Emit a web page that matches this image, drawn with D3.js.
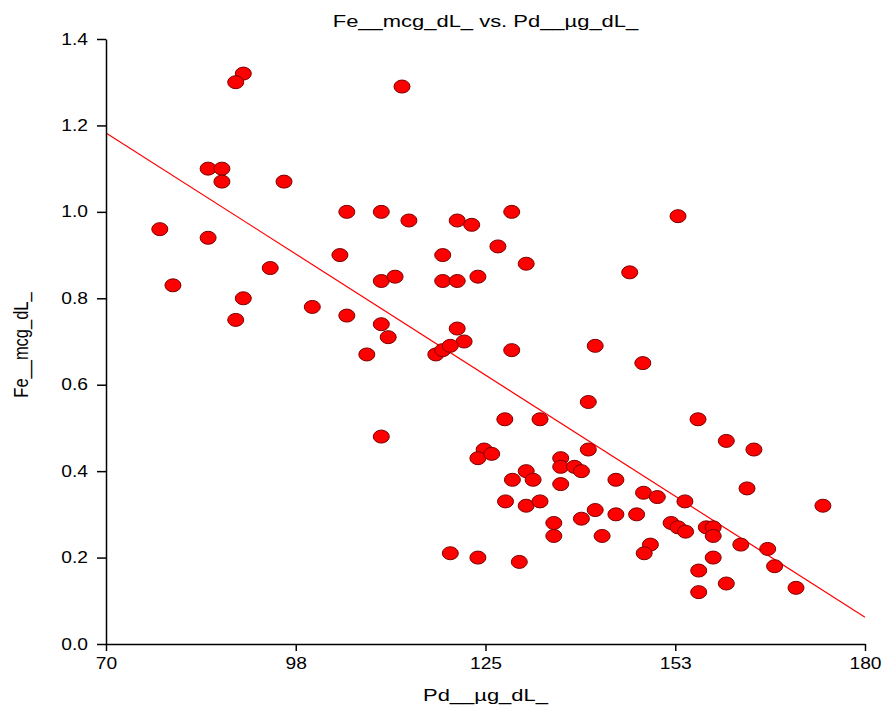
<!DOCTYPE html>
<html>
<head>
<meta charset="utf-8">
<script src="https://cdn.jsdelivr.net/npm/d3@7"></script>
<style>
  html, body { margin: 0; padding: 0; background: #fff; }
  svg { display: block; font-family: "Liberation Sans", Arial, sans-serif; }
</style>
</head>
<body>
<svg id="chart" width="887" height="713"></svg>
<script>
// Pd (µg/dL) readings
const pdValues = [
  89.9, 88.8, 112.9, 84.8, 86.8, 86.8, 95.8, 77.8, 84.8, 79.7,
  93.8, 89.9, 88.8, 99.9, 104.9, 109.9, 113.9, 103.9, 104.9, 109.9,
  111.9, 109.9, 110.9, 107.8, 109.9, 119.9, 120.9, 123.0, 118.8, 118.8,
  120.9, 123.9, 126.8, 128.8, 130.9, 152.9, 145.9, 120.9, 121.9, 117.8,
  118.8, 119.9, 128.8, 140.9, 147.8, 139.9, 127.8, 132.9, 155.8, 159.9,
  163.9, 162.9, 173.9, 124.8, 123.9, 125.9, 139.9, 135.9, 135.9, 137.9,
  138.9, 130.9, 128.9, 131.9, 135.9, 143.9, 127.9, 130.9, 132.9, 147.9,
  149.9, 153.9, 134.9, 134.9, 138.9, 140.9, 143.9, 146.9, 141.9, 148.9,
  148.0, 151.9, 152.9, 154.0, 123.9, 129.9, 157.0, 158.0, 158.0, 162.0,
  165.9, 158.0, 166.9, 155.9, 159.9, 155.9, 170.0
];

// Fe (mcg/dL) readings, paired with pdValues
const feValues = [
  1.32, 1.30, 1.29, 1.10, 1.10, 1.07, 1.07, 0.96, 0.94, 0.83,
  0.87, 0.80, 0.75, 0.78, 1.00, 1.00, 0.98, 0.90, 0.76, 0.84,
  0.85, 0.74, 0.71, 0.67, 0.48, 0.21, 0.98, 0.97, 0.90, 0.84,
  0.84, 0.85, 0.92, 1.00, 0.88, 0.99, 0.86, 0.73, 0.70, 0.67,
  0.68, 0.69, 0.68, 0.69, 0.65, 0.56, 0.52, 0.52, 0.52, 0.47,
  0.45, 0.36, 0.32, 0.45, 0.43, 0.44, 0.45, 0.43, 0.41, 0.41,
  0.40, 0.40, 0.38, 0.38, 0.37, 0.38, 0.33, 0.32, 0.33, 0.35,
  0.34, 0.33, 0.28, 0.25, 0.29, 0.31, 0.30, 0.30, 0.25, 0.23,
  0.21, 0.28, 0.27, 0.26, 0.20, 0.19, 0.27, 0.27, 0.25, 0.23,
  0.22, 0.20, 0.18, 0.17, 0.14, 0.12, 0.13
];

// Axis ticks
const xTickValues = [70, 97.5, 125, 152.5, 180];
const xTickLabels = ["70", "98", "125", "153", "180"];
const yTickValues = [0.0, 0.2, 0.4, 0.6, 0.8, 1.0, 1.2, 1.4];
const yTickLabels = ["0.0", "0.2", "0.4", "0.6", "0.8", "1.0", "1.2", "1.4"];

// Least-squares fit line: Fe = intercept + slope * Pd
const fitIntercept = [1.896];
const fitSlope = [-0.01019];

const titleText = "Fe__mcg_dL_ vs. Pd__\u00b5g_dL_";
const xLabel = "Pd__\u00b5g_dL_";
const yLabel = "Fe__mcg_dL_";

const svg = d3.select("#chart");
const margin = { left: 106, right: 22, top: 39, bottom: 69 };
const W = 887, H = 713;
const FONT = "\"Liberation Sans\", Arial, sans-serif";

const x = d3.scaleLinear().domain([70, 180]).range([margin.left, W - margin.right]);
const y = d3.scaleLinear().domain([0, 1.4]).range([H - margin.bottom, margin.top]);

const points = pdValues.map((v, i) => ({ pd: v, fe: feValues[i] }));

// Widen a text element horizontally while keeping its anchor
function widen(node, factor) {
  const w = node.getComputedTextLength();
  node.setAttribute("textLength", (w * factor).toFixed(2));
  node.setAttribute("lengthAdjust", "spacingAndGlyphs");
}

// Fit line across the full x domain
const fitFn = v => fitIntercept[0] + fitSlope[0] * v;
const lineGen = d3.line().x(d => x(d)).y(d => y(fitFn(d)));
svg.append("path")
  .datum(x.domain())
  .attr("d", lineGen)
  .attr("fill", "none")
  .attr("stroke", "#ff0000")
  .attr("stroke-width", 1.2);

// Markers
svg.append("g")
  .selectAll("ellipse")
  .data(points)
  .join("ellipse")
  .attr("cx", d => x(d.pd))
  .attr("cy", d => y(d.fe))
  .attr("rx", 8)
  .attr("ry", 6.5)
  .attr("fill", "#ff0000")
  .attr("stroke", "#7a0000")
  .attr("stroke-width", 1);

// Axes
const xAxis = d3.axisBottom(x)
  .tickValues(xTickValues)
  .tickFormat((d, i) => xTickLabels[i])
  .tickSize(7)
  .tickPadding(4)
  .tickSizeOuter(0);
const yAxis = d3.axisLeft(y)
  .tickValues(yTickValues)
  .tickFormat((d, i) => yTickLabels[i])
  .tickSize(9)
  .tickPadding(9)
  .tickSizeOuter(0);

const gx = svg.append("g")
  .attr("transform", `translate(0,${H - margin.bottom})`)
  .call(xAxis);
const gy = svg.append("g")
  .attr("transform", `translate(${margin.left},0)`)
  .call(yAxis);

[gx, gy].forEach(g => {
  g.select(".domain").attr("stroke", "#000").attr("stroke-width", 1.5);
  g.selectAll(".tick line").attr("stroke", "#000").attr("stroke-width", 1.5);
  g.selectAll(".tick text")
    .attr("fill", "#000")
    .style("font-size", "16px")
    .style("font-family", FONT)
    .each(function () { widen(this, 1.2); });
});
gx.selectAll(".tick text").attr("dy", "0.9em");

// Title and axis labels
const cx = (x.range()[0] + x.range()[1]) / 2;

svg.append("text")
  .attr("x", cx)
  .attr("y", 27)
  .attr("text-anchor", "middle")
  .style("font-size", "16.5px")
  .text(titleText)
  .each(function () { widen(this, 1.33); });

svg.append("text")
  .attr("x", cx)
  .attr("y", 701)
  .attr("text-anchor", "middle")
  .style("font-size", "16.5px")
  .text(xLabel)
  .each(function () { widen(this, 1.33); });

svg.append("text")
  .attr("transform", "translate(28,345) rotate(-90) scale(1,1.25)")
  .attr("text-anchor", "middle")
  .style("font-size", "16.5px")
  .text(yLabel);
</script>
</body>
</html>
